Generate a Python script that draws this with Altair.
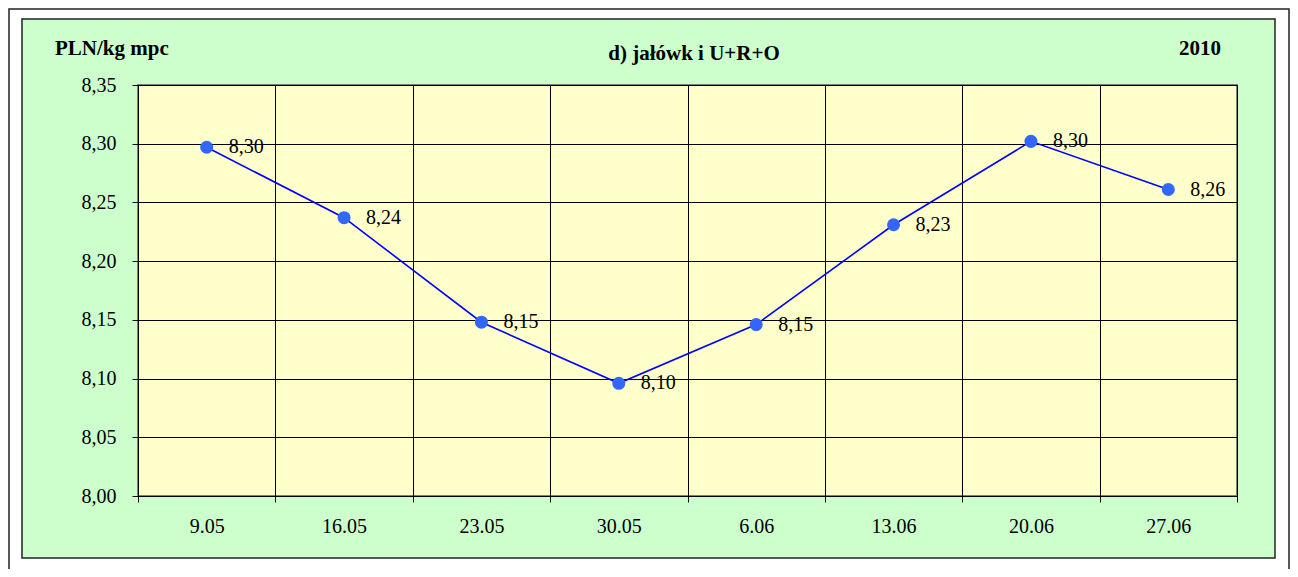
import altair as alt
import pandas as pd

dates = ["9.05", "16.05", "23.05", "30.05", "6.06", "13.06", "20.06", "27.06"]
prices = [8.297, 8.237, 8.148, 8.096, 8.146, 8.231, 8.302, 8.261]
labels = ["8,30", "8,24", "8,15", "8,10", "8,15", "8,23", "8,30", "8,26"]
y_ticks = [8.00, 8.05, 8.10, 8.15, 8.20, 8.25, 8.30, 8.35]

title_text = "d) jałówk i U+R+O"
unit_text = "PLN/kg mpc"
year_text = "2010"

df = pd.DataFrame({"date": dates, "price": prices, "label": labels})

W, H = 1099, 411
FONT = "Liberation Serif"

x_enc = alt.X(
    "date:N",
    sort=dates,
    scale=alt.Scale(type="band", paddingInner=0, paddingOuter=0),
    axis=alt.Axis(
        title=None, labelAngle=0, tickBand="extent", grid=True,
        gridColor="#000000", gridWidth=1, domain=False,
        ticks=True, tickSize=6, tickColor="#000000",
        labelFont=FONT, labelFontSize=20, labelColor="#000000",
        labelBaseline="middle", labelPadding=24,
    ),
)
y_enc = alt.Y(
    "price:Q",
    scale=alt.Scale(domain=[8.0, 8.35], nice=False, zero=False),
    axis=alt.Axis(
        title=None, values=y_ticks, grid=True, gridColor="#000000", gridWidth=1,
        domain=False, ticks=True, tickSize=6, tickColor="#000000",
        labelExpr="replace(format(datum.value, '.2f'), '.', ',')",
        labelFont=FONT, labelFontSize=20, labelColor="#000000",
        labelPadding=16,
    ),
)

base = alt.Chart(df).encode(x=x_enc, y=y_enc)
line = base.mark_line(color="#0000FF", strokeWidth=1.6)
pts = base.mark_circle(color="#3366FF", size=170, opacity=1)
txt = base.mark_text(align="left", baseline="middle", dx=22, font=FONT,
                     fontSize=20, color="#000000").encode(text="label:N")

one = alt.InlineData(values=[{}])

def rect(x, x2, y, y2, **kw):
    return alt.Chart(one).mark_rect(**kw).encode(
        x=alt.value(x), x2=alt.value(x2), y=alt.value(y), y2=alt.value(y2))

# white margins around the green panel
strips = [
    rect(-140, 1160, -90, -66, color="white"),
    rect(-140, 1160, 473, 500, color="white"),
    rect(-140, -116, -90, 500, color="white"),
    rect(1137, 1160, -90, 500, color="white"),
]
panel_border = rect(-116, 1137, -66, 473, filled=False, stroke="#222222", strokeWidth=1.5)
outer_border = rect(-129, 1151, -76, 520, filled=False, stroke="#222222", strokeWidth=1.5)

def label(t, x, y, align="center"):
    return alt.Chart(one).mark_text(
        font=FONT, fontSize=21, fontWeight="bold", color="#000000",
        align=align, baseline="alphabetic"
    ).encode(x=alt.value(x), y=alt.value(y), text=alt.value(t))

texts = [
    label(unit_text, -83, -30, "left"),
    label(title_text, 556, -25),
    label(year_text, 1062, -30),
]

chart = alt.layer(
    *strips, panel_border, outer_border, *texts, line, pts, txt
).properties(
    width=W, height=H,
    autosize=alt.AutoSizeParams(type="none"),
    padding={"left": 130, "top": 77, "right": 53, "bottom": 73},
).configure(
    background="#CCFFCC",
).configure_view(
    fill="#FFFFCC", stroke="#808080", strokeWidth=2,
)

chart.save("out.html", embed_options={"renderer": "svg", "actions": False})
